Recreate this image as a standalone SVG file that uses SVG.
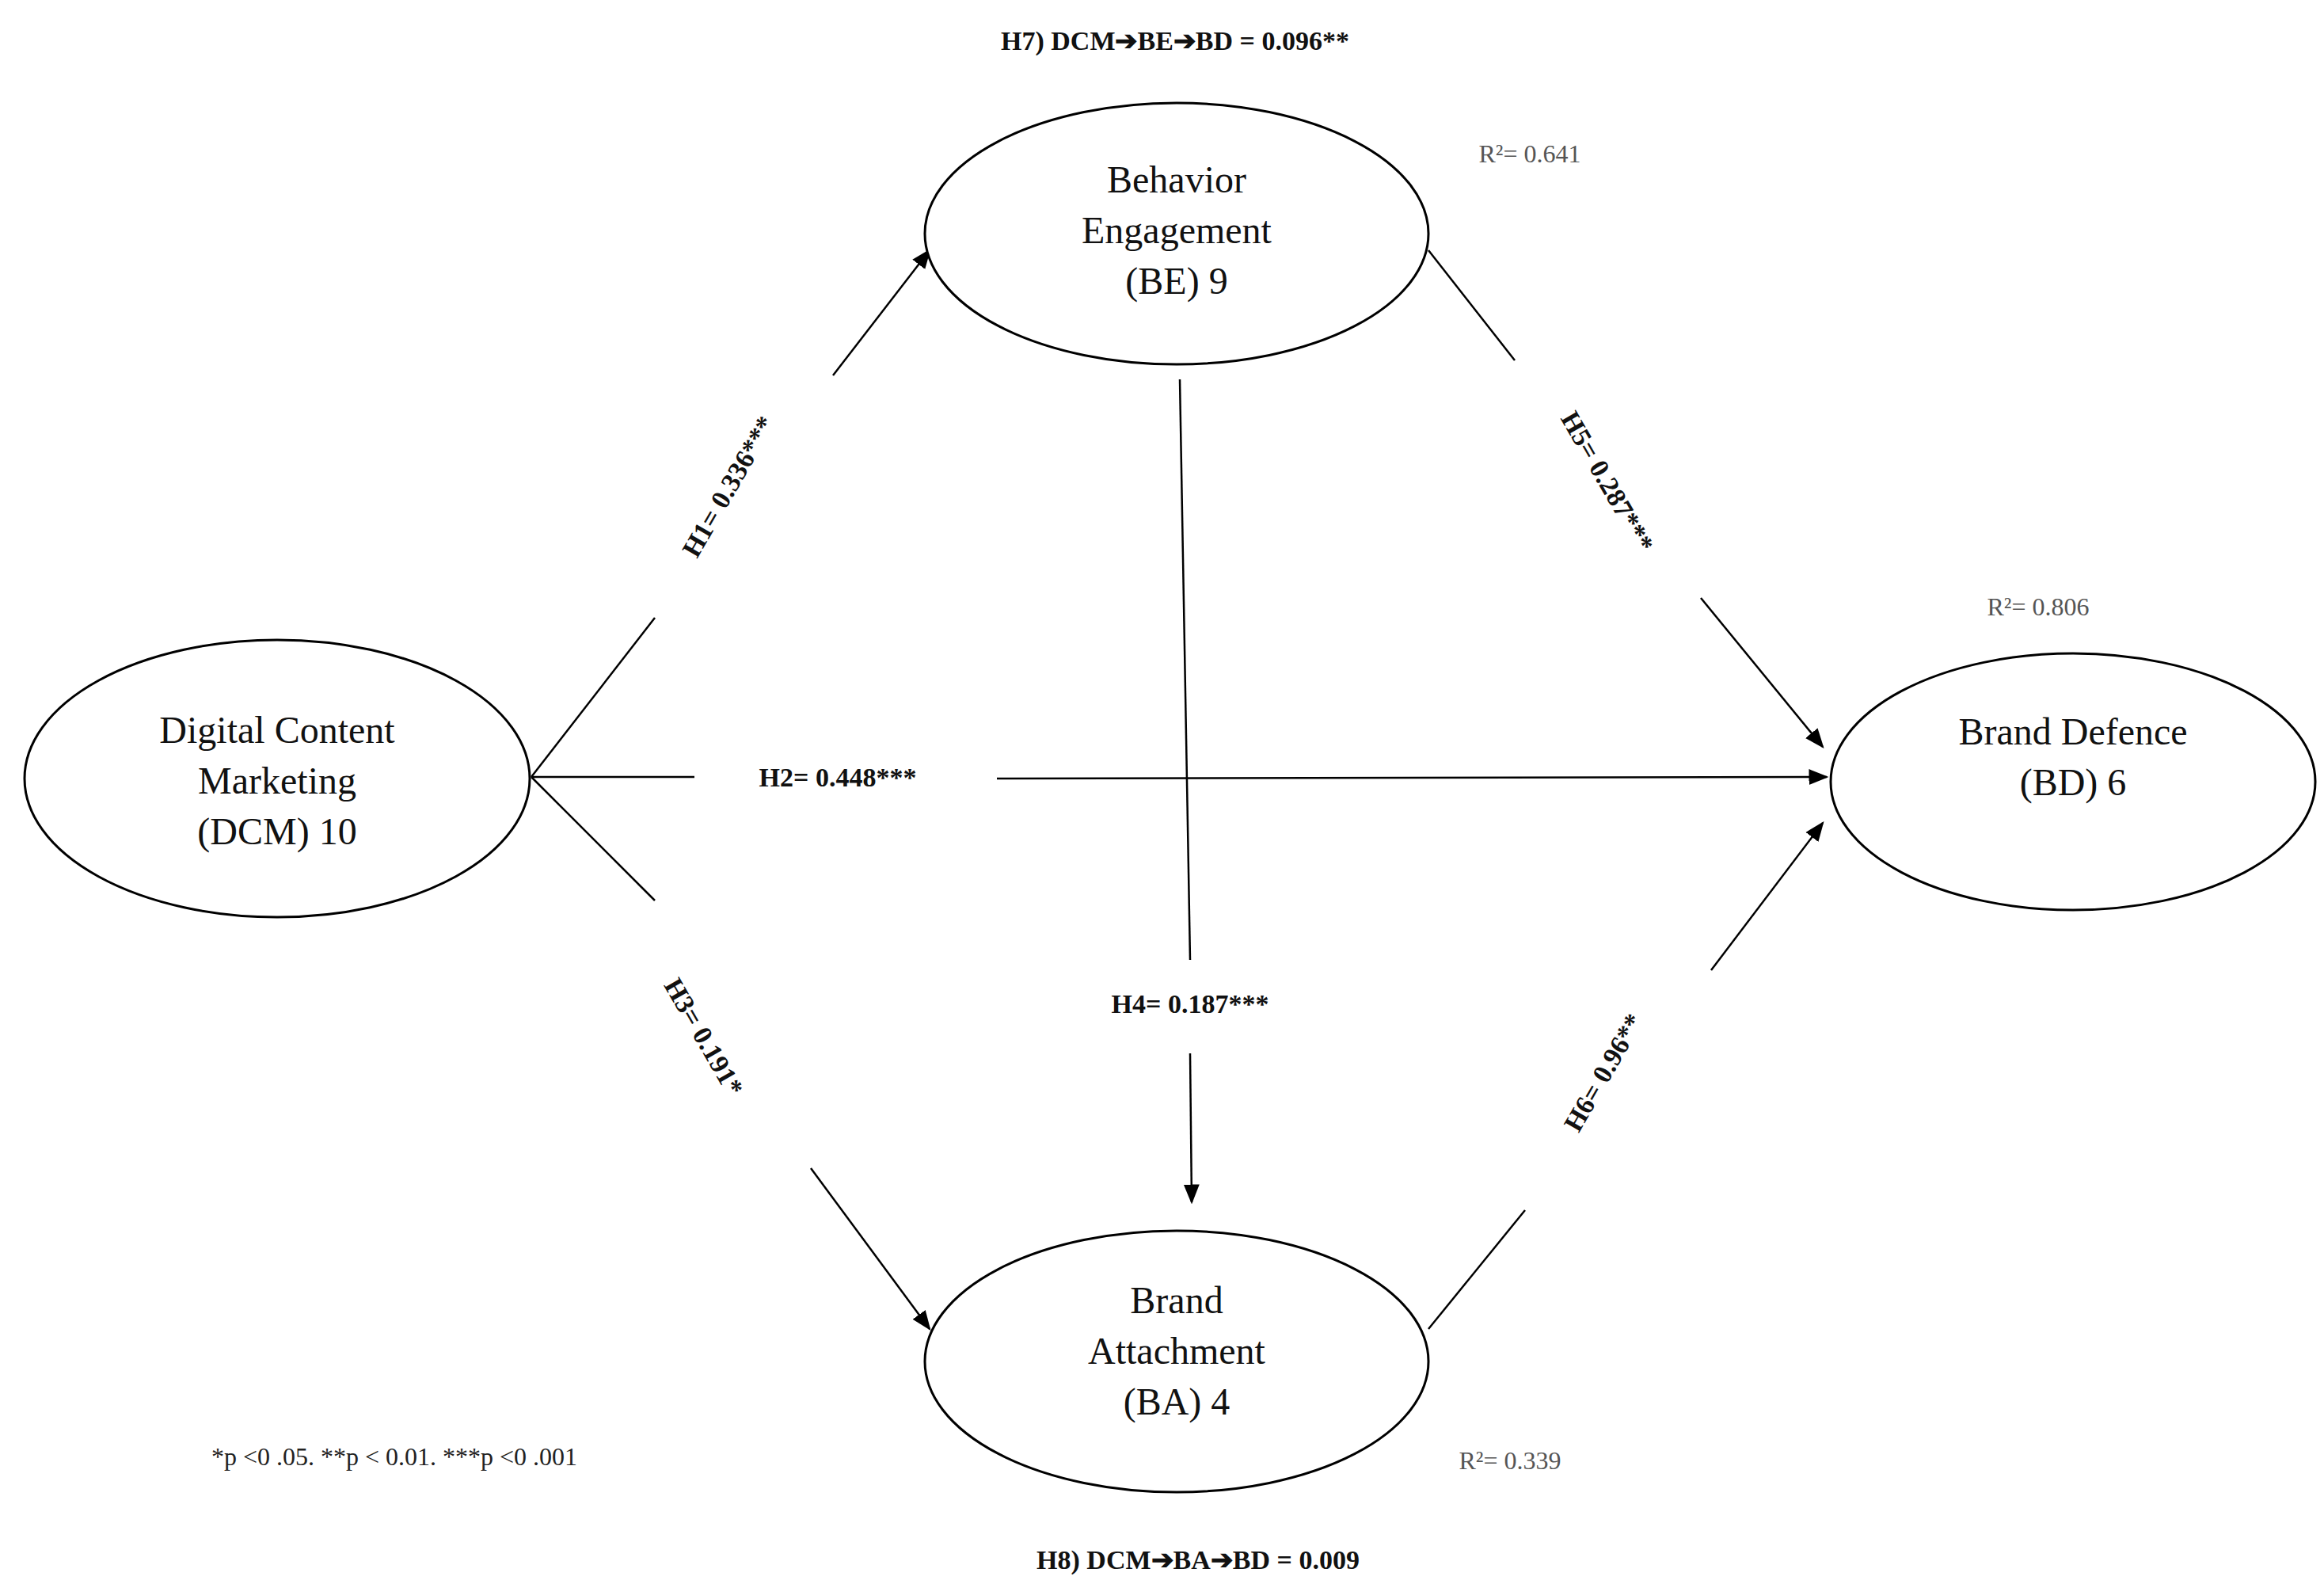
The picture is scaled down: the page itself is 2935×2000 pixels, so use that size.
<svg xmlns="http://www.w3.org/2000/svg" width="2935" height="2000" viewBox="0 0 2935 2000">
<style>
text{font-family:"Liberation Serif",serif;fill:#111;text-anchor:middle}
.n{font-size:48px}
.l{font-size:34px;font-weight:bold}
.r{font-size:32px;fill:#555}
ellipse{fill:#fff;stroke:#000;stroke-width:3}
#edges line{stroke:#000;stroke-width:2.5}
</style>
<defs><marker id="a" markerWidth="10" markerHeight="10" refX="9" refY="5" orient="auto" markerUnits="strokeWidth"><path d="M0,1 L10,5 L0,9 z" fill="#000"/></marker></defs>
<g id="edges">
<line x1="671" y1="981" x2="827" y2="780"/><line x1="1052" y1="474" x2="1174" y2="316" marker-end="url(#a)"/>
<line x1="671" y1="981" x2="877" y2="981"/><line x1="1259" y1="983" x2="2307" y2="981" marker-end="url(#a)"/>
<line x1="671" y1="981" x2="827" y2="1137"/><line x1="1024" y1="1475" x2="1174" y2="1678" marker-end="url(#a)"/>
<line x1="1490" y1="479" x2="1503" y2="1212"/><line x1="1503" y1="1330" x2="1505" y2="1518" marker-end="url(#a)"/>
<line x1="1804" y1="316" x2="1913" y2="455"/><line x1="2148" y1="755" x2="2302" y2="943" marker-end="url(#a)"/>
<line x1="1804" y1="1678" x2="1926" y2="1528"/><line x1="2161" y1="1225" x2="2302" y2="1039" marker-end="url(#a)"/>
</g>
<g id="labels">
<text class="l" transform="translate(930,620) rotate(-60)">H1= 0.336***</text>
<text class="l" x="1058" y="993">H2= 0.448***</text>
<text class="l" transform="translate(879,1315) rotate(60)">H3= 0.191*</text>
<text class="l" x="1503" y="1279">H4= 0.187***</text>
<text class="l" transform="translate(2020,614) rotate(60)">H5= 0.287***</text>
<text class="l" transform="translate(2035,1360) rotate(-60)">H6= 0.96**</text>
<text class="l" x="1484" y="63">H7) DCM➔BE➔BD  = 0.096**</text>
<text class="l" x="1513" y="1981">H8) DCM➔BA➔BD  = 0.009</text>
<text class="r" x="1932" y="205">R²= 0.641</text>
<text class="r" x="2574" y="777">R²= 0.806</text>
<text class="r" x="1907" y="1855">R²= 0.339</text>
<text class="r" x="498" y="1850" style="fill:#222">*p &lt;0 .05. **p &lt; 0.01. ***p &lt;0 .001</text>
</g>
<g id="DCM"><ellipse cx="350" cy="983" rx="319" ry="175"/><text class="n" x="350" y="938">Digital Content</text><text class="n" x="350" y="1002">Marketing</text><text class="n" x="350" y="1066">(DCM) 10</text></g>
<g id="BE"><ellipse cx="1486" cy="295" rx="318" ry="165"/><text class="n" x="1486" y="243">Behavior</text><text class="n" x="1486" y="307">Engagement</text><text class="n" x="1486" y="371">(BE) 9</text></g>
<g id="BD"><ellipse cx="2618" cy="987" rx="306" ry="162"/><text class="n" x="2618" y="940">Brand Defence</text><text class="n" x="2618" y="1004">(BD) 6</text></g>
<g id="BA"><ellipse cx="1486" cy="1719" rx="318" ry="165"/><text class="n" x="1486" y="1658">Brand</text><text class="n" x="1486" y="1722">Attachment</text><text class="n" x="1486" y="1786">(BA) 4</text></g>
</svg>
